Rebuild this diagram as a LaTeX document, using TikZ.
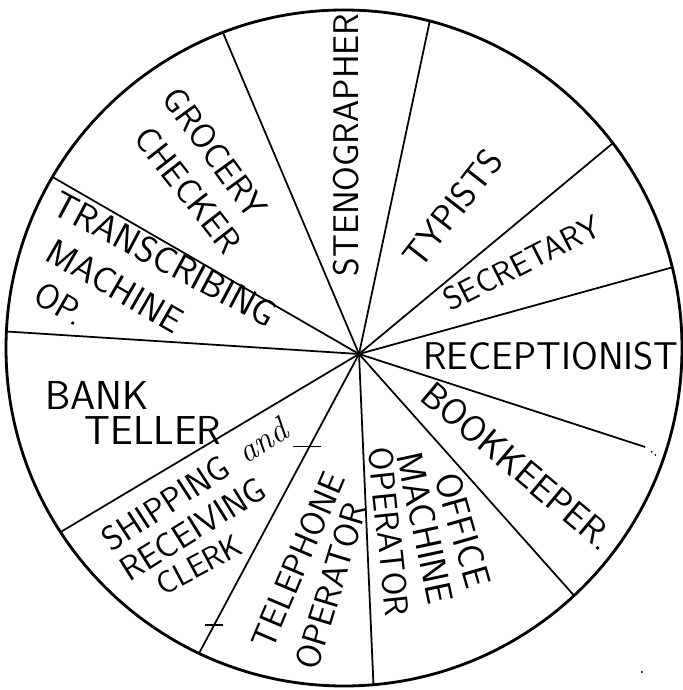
\documentclass[tikz,border=0pt]{standalone}
\usetikzlibrary{calc}
\tikzset{
  spoke/.style={line width=1pt, black},
  rim/.style={line width=1.6pt, black},
  tick/.style={line width=0.8pt, black},
  lbl/.style={font=\sffamily, inner sep=0pt, align=left},
}
\newcommand{\fsz}[1]{\fontsize{#1}{#1}\selectfont}

\begin{document}
\begin{tikzpicture}[x=0.02cm,y=0.02cm]
  \useasboundingbox (0,0) rectangle (683,690);
  % define point
  \coordinate (C) at (344,342);
  \coordinate (H) at (359,336);
  % wheel
  \draw[rim] (C) circle (338);
  % spokes
  \foreach \a/\n in {111/s1, 75.3/s2, 37.3/s3, 13.8/s4, -47.1/s6, -85/s7,
                     -115.4/s8, -147/s9, 177.2/s10, 149.6/s11}{
    \coordinate (\n) at ($(C)+(\a:338)$);
    \draw[spoke] (H) -- (\n);
  }
  \coordinate (s5) at ($(C)+(-18.2:317)$);
  \draw[spoke] (H) -- (s5);
  \coordinate (m5a) at ($(C)+(-18.6:324)$);
  \coordinate (m5b) at ($(C)+(-19.2:333)$);
  \draw[tick, dotted] (m5a) -- (m5b);
  % ticks on spoke
  \coordinate (t1) at ($(H)!0.31!(s8)$);
  \coordinate (t2) at ($(H)!0.905!(s8)$);
  \draw[tick] ($(t1)+(-16,0)$) -- ($(t1)+(12,0)$);
  \draw[tick] ($(t2)+(-9,0)$) -- ($(t2)+(9,0)$);
  \fill (642,18) circle (1.2);
  % labels
  \node[lbl, rotate=90] (steno) at (346,545) {\fsz{20.3}STENOGRAPHER};
  \node[lbl, rotate=52] (typ) at (453,482) {\fsz{20.6}TYPISTS};
  \node[lbl, rotate=27] (sec) at (522,427) {\fsz{18.5}SECRETARY};
  \node[lbl] (rec) at (551,334) {\fsz{22}RECEPTIONIST};
  \node[lbl, rotate=-40] (book) at (518,224) {\fsz{21}BOOKKEEPER.};
  \node[lbl, rotate=-74] (off1) at (463,160) {\fsz{21}OFFICE};
  \node[lbl, rotate=-78] (off2) at (425,162) {\fsz{21}MACHINE};
  \node[lbl, rotate=-84] (off3) at (389,158) {\fsz{19.5}OPERATOR};
  \node[lbl, rotate=67] (tel1) at (298,130) {\fsz{19.6}TELEPHONE};
  \node[lbl, rotate=73] (tel2) at (331,104) {\fsz{19.8}OPERATOR};
  \node[lbl, rotate=33] (ship1) at (195,206) {\fsz{19.5}SHIPPING\hspace{0.5em}{\rmfamily\itshape and}};
  \node[lbl, rotate=32] (ship2) at (193,161) {\fsz{19.6}RECEIVING};
  \node[lbl, rotate=28] (ship3) at (199,125) {\fsz{18}CLERK};
  \node[lbl] (bank1) at (97,295) {\fsz{23}BANK};
  \node[lbl] (bank2) at (153,260) {\fsz{23}TELLER};
  \node[lbl, rotate=-28] (tr1) at (165,431) {\fsz{21}TRANSCRIBING};
  \node[lbl, rotate=-30] (tr2) at (115,404) {\fsz{20.5}MACHINE};
  \node[lbl, rotate=-30] (tr3) at (60,386) {\fsz{20}OP.};
  \node[lbl, rotate=-54] (gro1) at (215,537) {\fsz{20}GROCERY};
  \node[lbl, rotate=-52] (gro2) at (188,500) {\fsz{20}CHECKER};
\end{tikzpicture}
\end{document}
